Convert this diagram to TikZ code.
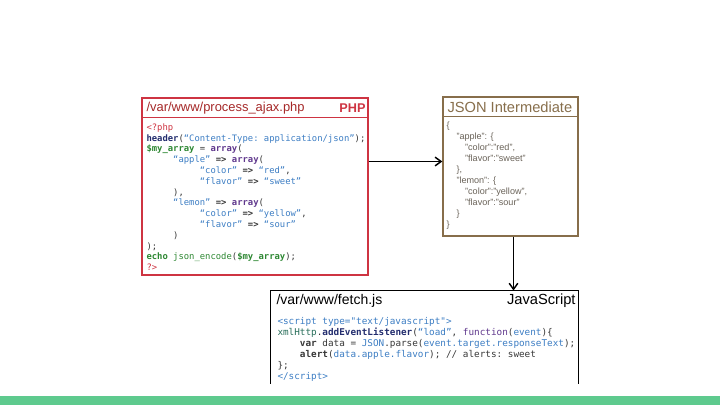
\documentclass[tikz,border=0pt]{standalone}
\usepackage{fontspec}
\setmainfont{Liberation Sans}
\setmonofont{DejaVu Sans Mono}
\usetikzlibrary{arrows.meta,calc}

\definecolor{phpred}{RGB}{206,52,66}
\definecolor{pathred}{RGB}{165,40,40}
\definecolor{jsonbrown}{RGB}{135,110,75}
\definecolor{jsongray}{RGB}{105,98,88}
\definecolor{codegray}{RGB}{55,55,55}
\definecolor{kwblue}{RGB}{35,45,110}
\definecolor{strblue}{RGB}{60,125,195}
\definecolor{vargreen}{RGB}{45,135,50}
\definecolor{arrpurple}{RGB}{95,55,140}
\definecolor{objteal}{RGB}{40,110,90}
\definecolor{bargreen}{RGB}{94,202,142}

\newcommand{\ind}[1]{\hspace*{#1\fontdimen2\font}}
\newcommand{\phptag}[1]{\textcolor{phpred}{#1}}
\newcommand{\phpkw}[1]{\textcolor{kwblue}{\textbf{#1}}}
\newcommand{\phpstr}[1]{\textcolor{strblue}{#1}}
\newcommand{\phpvar}[1]{\textcolor{vargreen}{\textbf{#1}}}
\newcommand{\phparr}[1]{\textcolor{arrpurple}{\textbf{#1}}}
\newcommand{\jsobj}[1]{\textcolor{objteal}{#1}}

\tikzset{every picture/.style={line width=0.75pt}}
\tikzset{
  phpbox/.style={draw=phpred, line width=1pt, minimum width=169.5pt, minimum height=132.75pt},
  jsonbox/.style={draw=jsonbrown, line width=1pt, minimum width=101.25pt, minimum height=104.25pt},
  jsbox/.style={minimum width=230.25pt, minimum height=69pt},
  flow/.style={line width=1.1pt, -{Straight Barb[length=4.5pt,width=6.5pt]}},
  codetext/.style={anchor=north west, inner sep=0pt, align=left}
}

\begin{document}
\begin{tikzpicture}[x=0.75pt,y=0.75pt,yscale=-1,xscale=1]
\useasboundingbox (0,0) rectangle (720,405);

%Shape: Rectangle
\node (php) at (255,186.5) [phpbox] {};
\draw [phpred, line width=1pt] ($(php.north west)+(0,20)$) -- ($(php.north east)+(0,20)$) ;
%Shape: Rectangle
\node (json) at (510.5,166.5) [jsonbox] {};
\draw [jsonbrown, line width=1pt] ($(json.north west)+(0,20)$) -- ($(json.north east)+(0,20)$) ;
%Shape: Open Rectangle
\node (js) at (424.5,337) [jsbox] {};
\draw [line width=1pt] (js.south west) -- (js.north west) -- (js.north east) -- (js.south east) ;

%Straight Lines
\coordinate (jsonin) at ($(json.west)+(0,-5)$);
\draw [flow] (jsonin -| php.east) -- (jsonin) ;
%Straight Lines
\coordinate (jsonout) at ($(json.south)+(3,0)$);
\draw [flow] (jsonout) -- (jsonout |- js.north) ;

%Shape: Bar
\fill [bargreen] (0,396) rectangle (720,405) ;

% Text Node
\node (phppath) at (146,108) [anchor=west][inner sep=0pt] [font=\fontsize{9.7}{11}\selectfont, text=pathred] {/var/www/process\_ajax.php};
% Text Node
\node (phplang) at (366,108) [anchor=east][inner sep=0pt] [font=\fontsize{9.5}{11}\selectfont\bfseries, text=phpred] {PHP};
% Text Node
\node (phpcode) at (146,123) [codetext] [font=\fontsize{6.65}{8.1}\selectfont\ttfamily, text=codegray] {\phptag{<?php}\\
\phpkw{header}(\phpstr{“Content-Type: application/json”});\\
\phpvar{\$my\_array} = \phparr{array}(\\
\ind{5}\phpstr{“apple”} \textbf{=>} \phparr{array}(\\
\ind{10}\phpstr{“color”} \textbf{=>} \phpstr{“red”},\\
\ind{10}\phpstr{“flavor”} \textbf{=>} \phpstr{“sweet”}\\
\ind{5}),\\
\ind{5}\phpstr{“lemon”} \textbf{=>} \phparr{array}(\\
\ind{10}\phpstr{“color”} \textbf{=>} \phpstr{“yellow”},\\
\ind{10}\phpstr{“flavor”} \textbf{=>} \phpstr{“sour”}\\
\ind{5})\\
);\\
\phpvar{echo} \textcolor{vargreen}{json\_encode}(\phpvar{\$my\_array});\\
\phptag{?>}};

% Text Node
\node (jsonhead) at (447,107) [anchor=west][inner sep=0pt] [font=\fontsize{11}{12}\selectfont, text=jsonbrown] {JSON Intermediate};
% Text Node
\node (jsoncode) at (446,121) [codetext] [font=\fontsize{6.8}{8.25}\selectfont, text=jsongray] {\{\\
\hspace*{7.5pt}"apple": \{\\
\hspace*{14pt}"color":"red",\\
\hspace*{14pt}"flavor":"sweet"\\
\hspace*{7.5pt}\},\\
\hspace*{7.5pt}"lemon": \{\\
\hspace*{14pt}"color":"yellow",\\
\hspace*{14pt}"flavor":"sour"\\
\hspace*{7.5pt}\}\\
\}};

% Text Node
\node (jspath) at (276,301) [anchor=west][inner sep=0pt] [font=\fontsize{10.5}{12}\selectfont] {/var/www/fetch.js};
% Text Node
\node (jslang) at (576,301) [anchor=east][inner sep=0pt] [font=\fontsize{11}{12}\selectfont] {JavaScript};
% Text Node
\node (jscode) at (277,317) [codetext] [font=\fontsize{7}{8.25}\selectfont\ttfamily, text=codegray] {\phpstr{<script type="text/javascript">}\\
\jsobj{xmlHttp}.\phpkw{addEventListener}(\phpstr{“load”}, \textcolor{arrpurple}{function}(\phpstr{event})\{\\
\ind{4}\textbf{var} data = \phpstr{JSON}.parse(\phpstr{event.target.responseText});\\
\ind{4}\textbf{alert}(\phpstr{data.apple.flavor}); // alerts: sweet\\
\};\\
\phpstr{</script>}};

\end{tikzpicture}
\end{document}
